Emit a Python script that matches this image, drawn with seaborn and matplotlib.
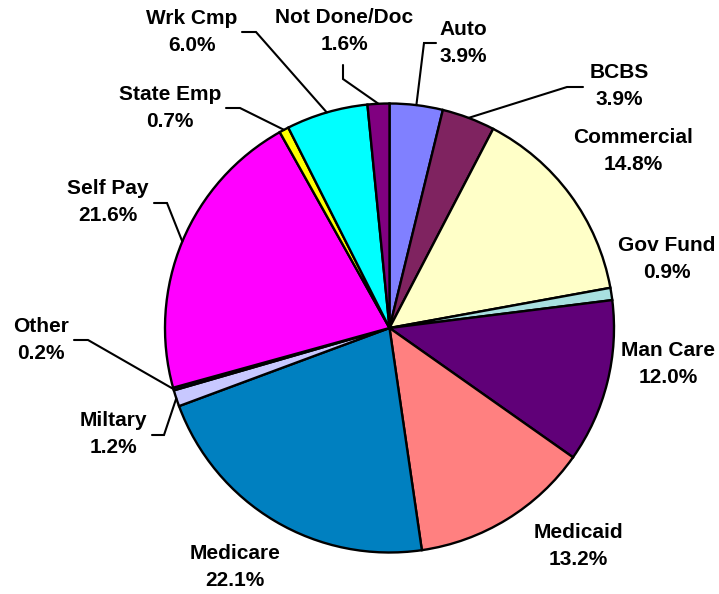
import numpy as np
import matplotlib
matplotlib.use("Agg")
import matplotlib.pyplot as plt
import seaborn as sns

# Payer mix, clockwise from 12 o'clock
categories = ["Auto", "BCBS", "Commercial", "Gov Fund", "Man Care", "Medicaid",
              "Medicare", "Miltary", "Other", "Self Pay", "State Emp", "Wrk Cmp",
              "Not Done/Doc"]
shares = [3.9, 3.9, 14.8, 0.9, 12.0, 13.2, 22.1, 1.2, 0.2, 21.6, 0.7, 6.0, 1.6]
colors = ["#8080FF", "#7F2360", "#FFFFC8", "#A8E0E0", "#600078", "#FF8080",
          "#0080C0", "#C8C8FF", "#000080", "#FF00FF", "#FFFF00", "#00FFFF",
          "#800080"]

# Label layout in pixel space (text centre, optional leader elbow and end)
label_layout = {
    "Auto":         ((463, 43),  (424, 43),  (436, 43)),
    "BCBS":         ((619, 86),  (567, 87),  (583, 87)),
    "Commercial":   ((633, 151), None, None),
    "Gov Fund":     ((667, 259), None, None),
    "Man Care":     ((668, 364), None, None),
    "Medicaid":     ((578, 546), None, None),
    "Medicare":     ((235, 567), None, None),
    "Miltary":      ((113, 434), (164, 435), (152, 435)),
    "Other":        ((41, 340),  (88, 340),  (74, 340)),
    "Self Pay":     ((108, 202), (167, 203), (154, 203)),
    "State Emp":    ((170, 108), (240, 108), (226, 108)),
    "Wrk Cmp":      ((192, 32),  (256, 32),  (242, 32)),
    "Not Done/Doc": ((344, 31),  (343, 79),  (343, 65)),
}

W, H = 719, 594
CX, CY, R = 389.5, 328, 224.5


def to_data(p):
    return ((p[0] - CX) / R, (CY - p[1]) / R)


sns.set_theme(style="white")
plt.rcParams["font.family"] = ["Liberation Sans", "DejaVu Sans"]

fig = plt.figure(figsize=(W / 100, H / 100), dpi=100)
ax = fig.add_axes([0, 0, 1, 1])

wedges, _ = ax.pie(shares, colors=colors, startangle=90, counterclock=False,
                   radius=1.0, center=(0, 0),
                   wedgeprops=dict(edgecolor="black", linewidth=1.7))

ax.set_xlim(-CX / R, (W - CX) / R)
ax.set_ylim((CY - H) / R, CY / R)
ax.set_aspect("equal")
ax.axis("off")

for wedge, name, val in zip(wedges, categories, shares):
    text_pos, elbow, end = label_layout[name]
    tx, ty = to_data(text_pos)
    ax.text(tx, ty, f"{name}\n{val:.1f}%", ha="center", va="center",
            fontsize=15, fontweight="bold", linespacing=1.57, color="black")
    if elbow is not None:
        mid = np.deg2rad((wedge.theta1 + wedge.theta2) / 2)
        p0 = (np.cos(mid), np.sin(mid))
        p1 = to_data(elbow)
        p2 = to_data(end)
        ax.plot([p0[0], p1[0], p2[0]], [p0[1], p1[1], p2[1]],
                color="black", lw=1.5, solid_joinstyle="miter", clip_on=False)

fig.savefig("out.png", dpi=100, facecolor="white")
